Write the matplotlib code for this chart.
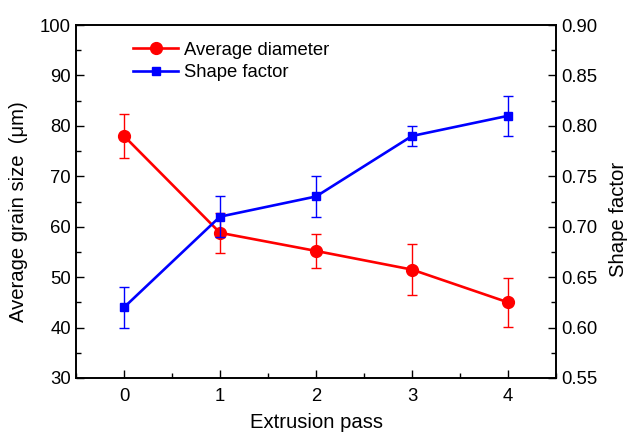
import matplotlib
matplotlib.use("Agg")
import matplotlib.pyplot as plt
from matplotlib.ticker import MultipleLocator, FormatStrFormatter
from matplotlib.lines import Line2D

plt.rcParams['font.family'] = ['Liberation Sans', 'DejaVu Sans']

passes = [0, 1, 2, 3, 4]
diameter = [78.0, 58.8, 55.2, 51.5, 45.0]
diameter_err = [4.3, 4.0, 3.3, 5.1, 4.9]
shape = [0.62, 0.71, 0.73, 0.79, 0.81]
shape_err = [0.02, 0.02, 0.02, 0.01, 0.02]

red = '#ff0000'
blue = '#0000ff'

fig = plt.figure(figsize=(6.3, 4.32), dpi=100)
ax = fig.add_axes([0.1206, 0.125, 0.762, 0.817])
ax2 = ax.twinx()

ax.errorbar(passes, diameter, yerr=diameter_err, color=red, marker='o',
            markersize=8.5, linewidth=1.9, elinewidth=1.0, capsize=3.5, capthick=1.0)
ax2.errorbar(passes, shape, yerr=shape_err, color=blue, marker='s',
             markersize=6, linewidth=1.9, elinewidth=1.0, capsize=3.5, capthick=1.0)

ax.set_xlim(-0.5, 4.5)
ax.set_ylim(30, 100)
ax2.set_ylim(0.55, 0.90)
ax.set_xticks(passes)
ax.xaxis.set_minor_locator(MultipleLocator(0.5))
ax.yaxis.set_major_locator(MultipleLocator(10))
ax.yaxis.set_minor_locator(MultipleLocator(5))
ax2.yaxis.set_major_locator(MultipleLocator(0.05))
ax2.yaxis.set_minor_locator(MultipleLocator(0.025))
ax2.yaxis.set_major_formatter(FormatStrFormatter('%.2f'))

for a in (ax, ax2):
    a.tick_params(which='both', direction='in', labelsize=13.3, top=False)
    a.tick_params(which='major', length=6, width=1.0)
    a.tick_params(which='minor', length=3.5, width=1.0)
    for s in a.spines.values():
        s.set_linewidth(1.2)
ax.tick_params(axis='y', right=False)
ax.tick_params(axis='x', pad=7)

ax.set_xlabel('Extrusion pass', fontsize=14.6, labelpad=6)
fig.text(0.030, 0.509, 'Average grain size  (\u03bcm)', fontsize=14.6,
         rotation=90, ha='center', va='center')
fig.text(0.982, 0.491, 'Shape factor', fontsize=14.6,
         rotation=90, ha='center', va='center')

handles = [Line2D([], [], color=red, marker='o', markersize=8.5, linewidth=1.9),
           Line2D([], [], color=blue, marker='s', markersize=6, linewidth=1.9)]
ax.legend(handles, ['Average diameter', 'Shape factor'], loc='upper left',
          bbox_to_anchor=(0.085, 1.0), frameon=False, fontsize=13.3,
          handlelength=2.4, handletextpad=0.35, labelspacing=0.3)

fig.savefig('out.png', dpi=100)
